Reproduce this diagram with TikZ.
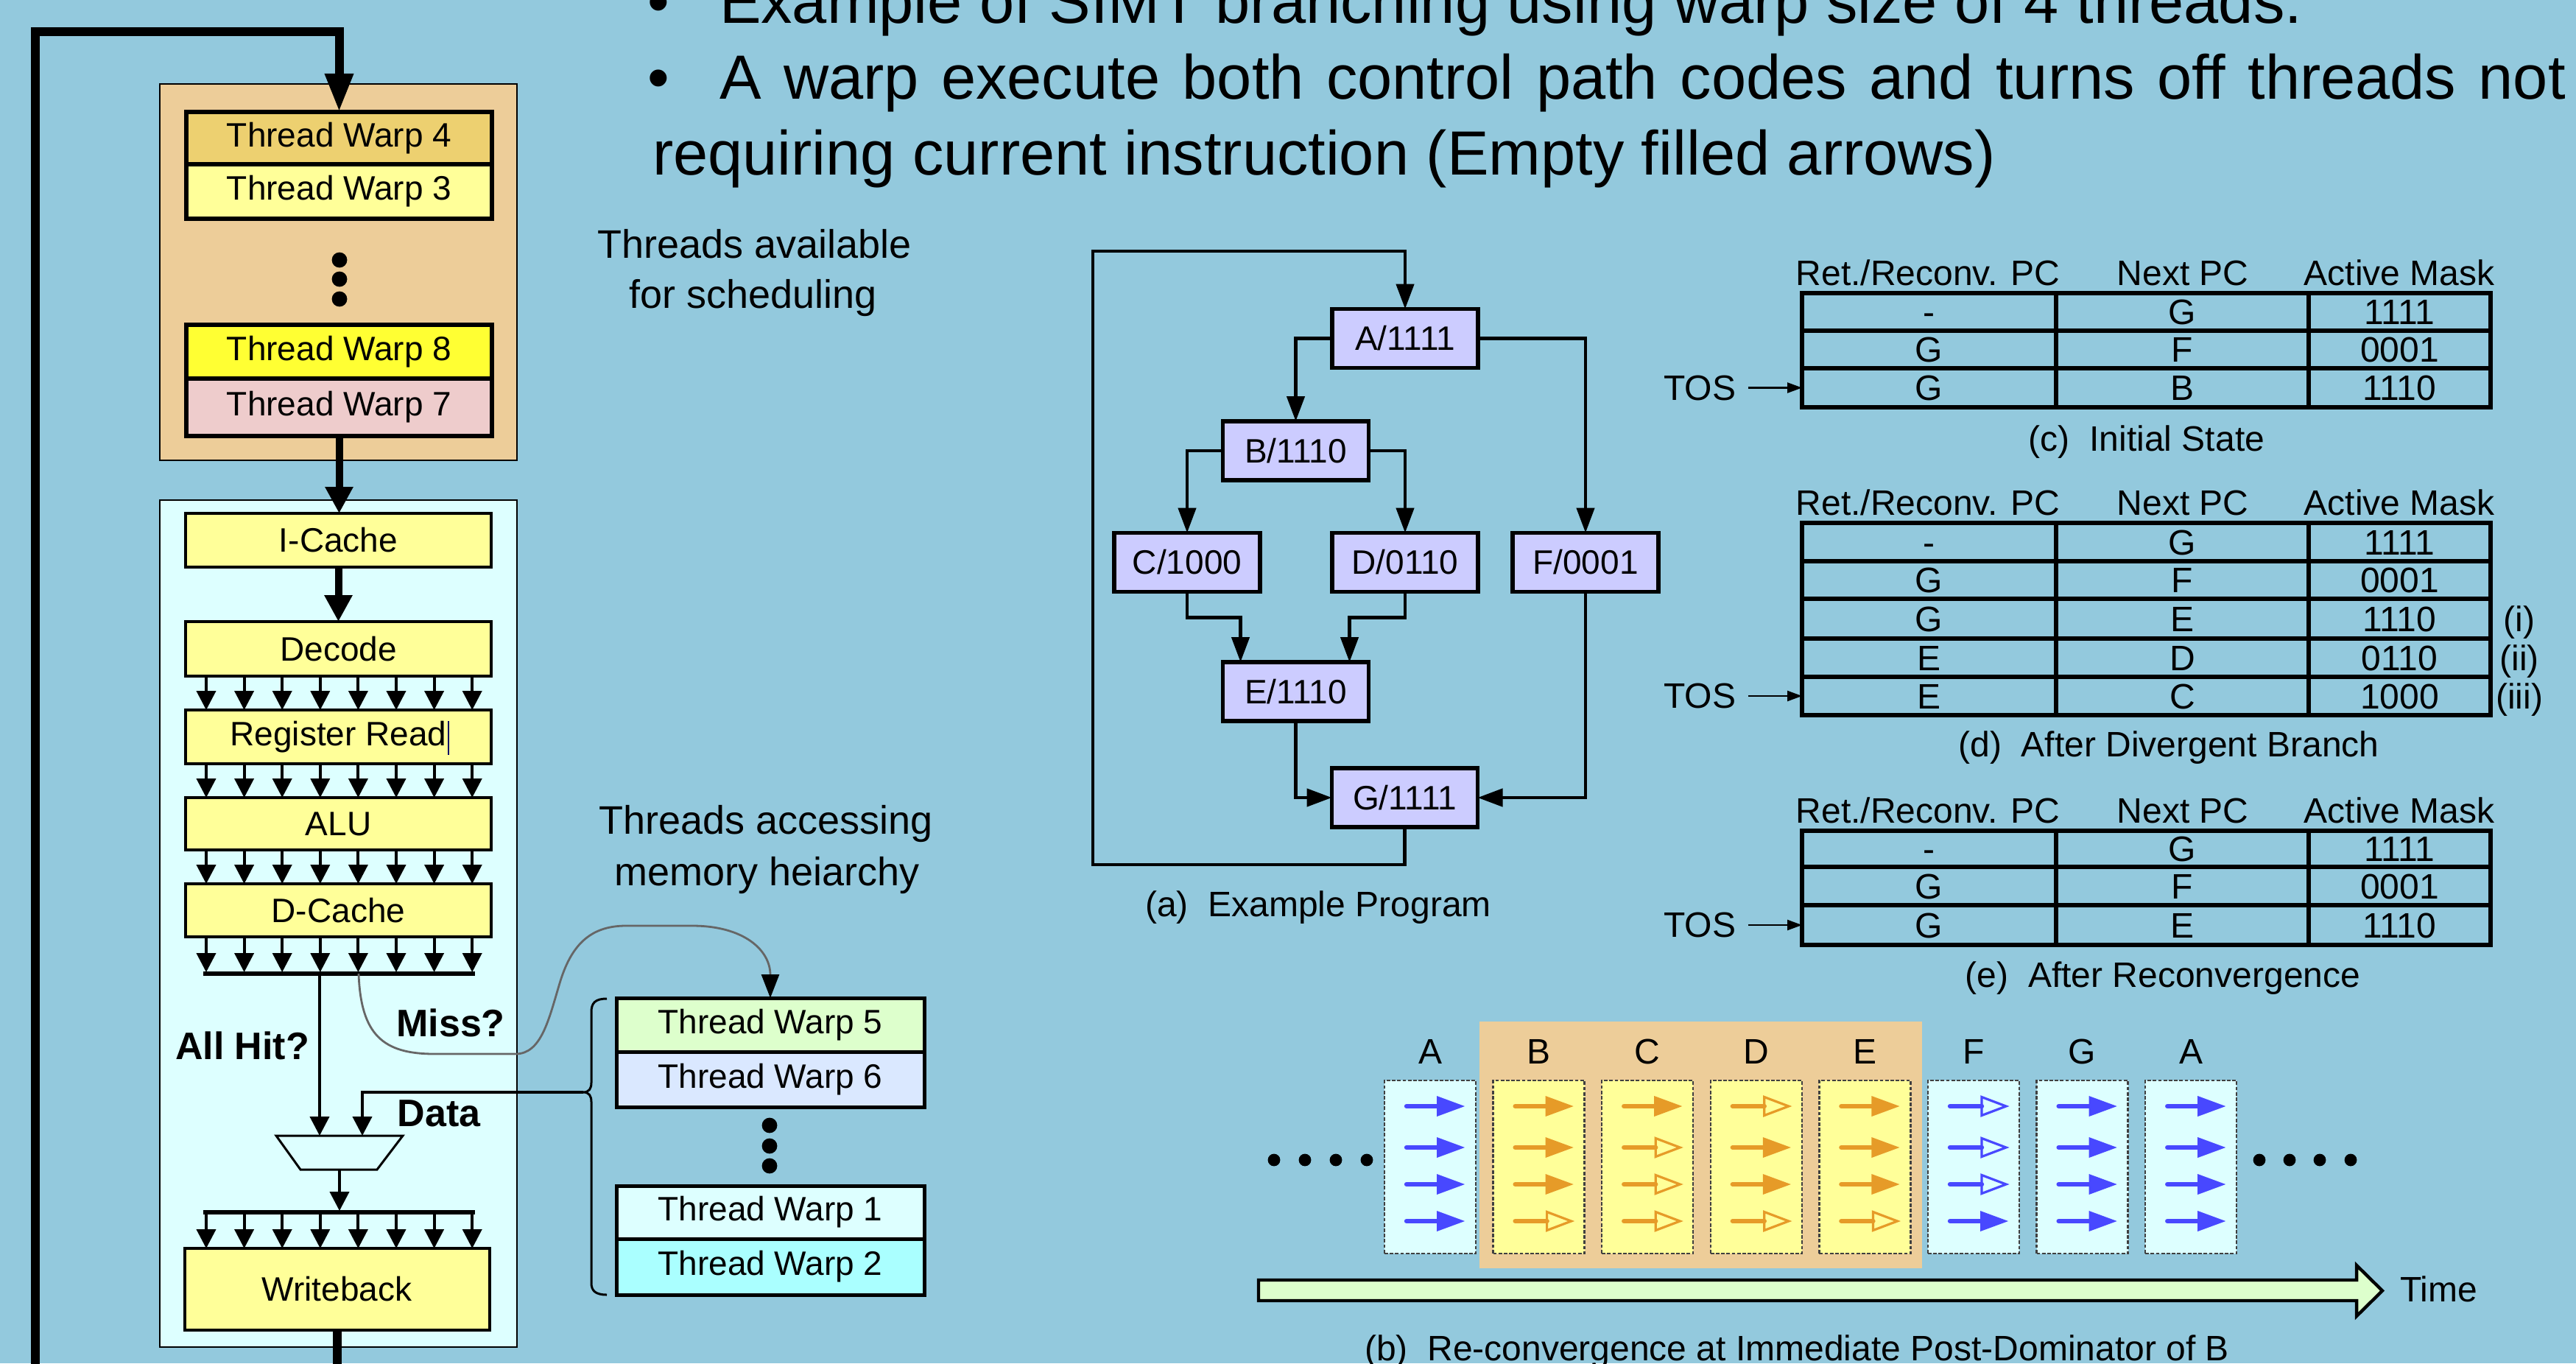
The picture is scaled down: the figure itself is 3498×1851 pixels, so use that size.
\documentclass[tikz,border=0pt]{standalone}
\usepackage{fontspec}
\setmainfont{Liberation Sans}
\usetikzlibrary{arrows.meta,calc}
\definecolor{bg}{RGB}{147,201,221}
\definecolor{tanc}{RGB}{237,205,153}
\definecolor{goldc}{RGB}{237,208,112}
\definecolor{lyel}{RGB}{255,255,153}
\definecolor{byel}{RGB}{255,255,51}
\definecolor{pinkc}{RGB}{238,204,204}
\definecolor{lcyan}{RGB}{221,255,255}
\definecolor{lgreen}{RGB}{221,255,204}
\definecolor{lblue}{RGB}{218,232,255}
\definecolor{cyantwo}{RGB}{170,255,255}
\definecolor{lav}{RGB}{204,204,255}
\definecolor{blu}{RGB}{72,72,255}
\definecolor{org}{RGB}{230,155,40}
\newcommand\fsz[1]{\fontsize{#1}{#1}\selectfont}
\newcommand\tarrf[3]{%
  \draw[#3, line width=1.6pt, line cap=round] (#1+30,#2) -- (#1+74,#2);
  \fill[#3] (#1+71,#2-14) -- (#1+109,#2) -- (#1+71,#2+14) -- cycle;}
\newcommand\tarrh[3]{%
  \draw[#3, line width=1.6pt, line cap=round] (#1+30,#2) -- (#1+73,#2);
  \draw[#3, line width=0.8pt, line join=miter] (#1+73,#2-12.5) -- (#1+106,#2) -- (#1+73,#2+12.5) -- cycle;}
\newcommand\tarr[4]{\csname tarr#1\endcsname{#2}{#3}{#4}}
\begin{document}
\begin{tikzpicture}[x=0.25pt,y=-0.25pt,
  wh/.style 2 args={minimum width=#1*0.25pt, minimum height=#2*0.25pt},
  every node/.style={inner sep=0pt, outer sep=0pt},
  lwarp/.style={draw, line width=1.5pt, font=\fsz{11.5}},
  rwarp/.style={draw, line width=1.25pt, font=\fsz{11.5}},
  stage/.style={draw, fill=lyel, line width=1pt, font=\fsz{11.5}},
  sarr/.style={line width=1pt, -{Triangle[length=6.5pt,width=6.5pt]}},
  tarrw/.style={line width=2.5pt, -{Triangle[length=9pt,width=9pt]}},
  tbl/.style={line width=1.3pt},
  tosarr/.style={line width=0.6pt, -{Triangle[length=5pt,width=3.5pt]}},
  cfg/.style={draw, fill=lav, line width=1.4pt, wh={198}{80}, font=\fsz{11.5}},
  carr/.style={line width=1.15pt, -{Triangle[length=8.5pt,width=6pt]}}]
\useasboundingbox (0,0) rectangle (3498,1851);
\clip (0,0) rectangle (3498,1851);
\fill[bg] (0,0) rectangle (3498,1851);

% ---------- top text ----------
\begin{scope}[font=\fsz{21.2}]
\node[anchor=base] (bul1) at (894,32) {\textbullet};
\node[anchor=base west] (line1) at (977,32) {Example of SIMT branching using warp size of 4 threads.};
\node[anchor=base] (bul2) at (894,135) {\textbullet};
\node[anchor=base west] (line2) at (977,135) {\makebox[626.75pt][s]{A warp execute both control path codes and turns off threads not}};
\node[anchor=base west] (line3) at (886,238) {requiring current instruction (Empty filled arrows)};
\end{scope}

% ---------- scheduling pool ----------
\node[draw, fill=tanc, line width=0.6pt, wh={485}{511}] (sched) at (459.5,369.5) {};
\node[lwarp, fill=goldc, wh={415}{71}] (tw4) at (460.5,187.5) {Thread Warp 4};
\node[lwarp, fill=lyel, wh={415}{74}] (tw3) at (460.5,260) {Thread Warp 3};
\node[lwarp, fill=byel, wh={415}{73}] (tw8) at (460.5,477.5) {Thread Warp 8};
\node[lwarp, fill=pinkc, wh={415}{78}] (tw7) at (460.5,553) {Thread Warp 7};
\foreach \y in {353,379,406} \fill (461,\y) circle[radius=2.6pt];

% ---------- pipeline ----------
\node[draw, fill=lcyan, line width=0.6pt, wh={485}{1150}] (pipe) at (459.5,1254) {};
\node[stage, wh={415}{73}] (icache) at (459.5,733.5) {I-Cache};
\node[stage, wh={415}{74}] (decode) at (459.5,881) {Decode};
\node[stage, wh={415}{73}] (regread) at (459.5,1000.5) {Register Read};
\draw[line width=0.5pt, blue!40!black] (609,979) -- (609,1025);
\node[stage, wh={415}{71}] (alu) at (459.5,1118.5) {ALU};
\node[stage, wh={415}{72}] (dcache) at (459.5,1236) {D-Cache};
\node[stage, wh={414}{111}] (wb) at (457.5,1750.5) {Writeback};

\draw[tarrw] (tw7.south) -- (tw7.south |- icache.north);
\draw[tarrw] (icache.south) -- (decode.north);
\foreach \i in {0,...,7}{
  \draw[sarr] ($(decode.south west)+(28+51.6*\i,0)$) -- ($(regread.north west)+(28+51.6*\i,0)$);
  \draw[sarr] ($(regread.south west)+(28+51.6*\i,0)$) -- ($(alu.north west)+(28+51.6*\i,0)$);
  \draw[sarr] ($(alu.south west)+(28+51.6*\i,0)$) -- ($(dcache.north west)+(28+51.6*\i,0)$);
}
\coordinate (bar1l) at (276,1322);
\coordinate (bar1r) at (645,1322);
\coordinate (bar2l) at (276,1646);
\coordinate (bar2r) at (645,1646);
\foreach \i in {0,...,7}{
  \draw[sarr] ($(dcache.south west)+(28+51.6*\i,0)$) -- ($(bar1l)+(4+51.6*\i,-2)$);
  \draw[sarr] ($(bar2l)+(4+51.6*\i,0)$) -- ($(wb.north west)+(29.5+51.6*\i,0)$);
}
\draw[line width=1.5pt] (bar1l) -- (bar1r);
\draw[line width=1.5pt] (bar2l) -- (bar2r);
% mux
\coordinate (muxa) at (434,1542);
\coordinate (muxb) at (492,1542);
\coordinate (muxo) at (461,1588);
\draw[line width=0.75pt, line join=miter] (375,1542) -- (547,1542) -- (512,1588) -- (408,1588) -- cycle;
\draw[sarr] ($(bar1l)+(158,0)$) -- (muxa);
\draw[sarr] (muxo) -- ($(bar2l)+(185,-2)$);

% labels in pipeline
\node[font=\fsz{13}\bfseries] (allhit) at (329,1420) {All Hit?};
\node[font=\fsz{13}\bfseries] (miss) at (612,1389) {Miss?};
\node[font=\fsz{13}\bfseries] (data) at (596,1512) {Data};

% loop back
\draw[line width=3pt, -{Triangle[length=13pt,width=9pt]}] (wb.south) -- (457.5,1950) -| (48,43) -| (tw4.north);

% ---------- memory warps ----------
\node[rwarp, fill=lgreen, wh={418}{73}] (tw5) at (1046,1391.5) {Thread Warp 5};
\node[rwarp, fill=lblue, wh={418}{75}] (tw6) at (1046,1465.5) {Thread Warp 6};
\node[rwarp, fill=lcyan, wh={418}{72}] (tw1) at (1046,1646) {Thread Warp 1};
\node[rwarp, fill=cyantwo, wh={418}{76}] (tw2) at (1046,1720) {Thread Warp 2};
\foreach \y in {1528,1556,1583} \fill (1045,\y) circle[radius=2.6pt];
% brace
\coordinate (bracetip) at (792,1483);
\draw[line width=0.75pt] (824,1356) .. controls (808,1356) and (803,1362) .. (803,1374) -- (803,1470)
   .. controls (803,1478) and (800,1483) .. (bracetip)
   .. controls (800,1483) and (803,1488) .. (803,1496) -- (803,1742)
   .. controls (803,1752) and (808,1758) .. (824,1758);
\draw[sarr] (bracetip) -| (muxb);
% miss curve
\draw[draw=black!60, line width=0.7pt, -{Triangle[length=8pt,width=6pt,black]}]
  ($(bar1l)+(211,0)$) .. controls (490,1405) and (520,1431) .. (590,1431) -- (700,1431)
  .. controls (735,1431) and (745,1385) .. (760,1335)
  .. controls (775,1285) and (800,1257) .. (850,1257) -- (940,1257)
  .. controls (1010,1257) and (1046,1290) .. (tw5.north);

% side labels
\node[anchor=base, font=\fsz{13.5}] (lab1) at (1025,350) {Threads available};
\node[anchor=base, font=\fsz{13.5}] (lab2) at (1023,418) {for scheduling};
\node[anchor=base, font=\fsz{13.5}] (lab3) at (1040,1132) {Threads accessing};
\node[anchor=base, font=\fsz{13.5}] (lab4) at (1042,1202) {memory heiarchy};

% ---------- (a) example program ----------
\node[cfg] (A) at (1908,459.5) {A/1111};
\node[cfg] (B) at (1759.5,612) {B/1110};
\node[cfg] (C) at (1612,763.5) {C/1000};
\node[cfg] (D) at (1908,763.5) {D/0110};
\node[cfg] (F) at (2153,763.5) {F/0001};
\node[cfg] (E) at (1759.5,939) {E/1110};
\node[cfg] (G) at (1907.5,1083) {G/1111};
\draw[carr] (A.west) -| (B.north);
\draw[carr] (A.east) -| (F.north);
\draw[carr] (B.west) -| (C.north);
\draw[carr] (B.east) -| (D.north);
\draw[carr] (C.south) -- ++(0,35) -| ($(E.north)+(-75,0)$);
\draw[carr] (D.south) -- ++(0,35) -| ($(E.north)+(73,0)$);
\draw[carr] (E.south) |- (G.west);
\draw[carr] (F.south) |- (G.east);
\draw[carr] (G.south) -- ++(0,51) -| (1484,341) -| (A.north);
\node[anchor=base, font=\fsz{12}] (capa) at (1790,1244) {(a)~ Example Program};

% ---------- stack tables ----------
\begin{scope}[font=\fsz{12}]
% (c)
\node[anchor=base] (hc1) at (2618,387) {Ret./Reconv. PC};
\node[anchor=base] (hc2) at (2964,387) {Next PC};
\node[anchor=base] (hc3) at (3258,387) {Active Mask};
\draw[tbl] (2447,398) rectangle (3382,553);
\draw[tbl] (2447,449) -- (3382,449) (2447,500) -- (3382,500) (2792,398) -- (2792,553) (3135,398) -- (3135,553);
\foreach \y/\a/\b/\cc [count=\n] in {440.5/-/G/1111,491.5/G/F/0001,543.5/G/B/1110}{
  \node[anchor=base] (cc\n-1) at (2619.5,\y) {\a};
  \node[anchor=base] (cc\n-2) at (2963.5,\y) {\b};
  \node[anchor=base] (cc\n-3) at (3258.5,\y) {\cc};}
\node[anchor=east] (tosc) at (2357,526.5) {TOS};
\coordinate (tc) at (2447,526.5);
\draw[tosarr] ([xshift=4.2pt]tosc.east) -- (tc);
\node[anchor=base] (capc) at (2915,612) {(c)~ Initial State};
% (d)
\node[anchor=base] (hd1) at (2618,699) {Ret./Reconv. PC};
\node[anchor=base] (hd2) at (2964,699) {Next PC};
\node[anchor=base] (hd3) at (3258,699) {Active Mask};
\draw[tbl] (2447,710) rectangle (3382,971);
\draw[tbl] (2447,762) -- (3382,762) (2447,813) -- (3382,813) (2447,867) -- (3382,867) (2447,919) -- (3382,919)
  (2792,710) -- (2792,971) (3135,710) -- (3135,971);
\foreach \y/\a/\b/\cc [count=\n] in {753/-/G/1111,804.5/G/F/0001,857/G/E/1110,910/E/D/0110,962/E/C/1000}{
  \node[anchor=base] (cd\n-1) at (2619.5,\y) {\a};
  \node[anchor=base] (cd\n-2) at (2963.5,\y) {\b};
  \node[anchor=base] (cd\n-3) at (3258.5,\y) {\cc};}
\node[anchor=base] (ri) at (3421,857) {(i)};
\node[anchor=base] (rii) at (3421,910) {(ii)};
\node[anchor=base] (riii) at (3421,962) {(iii)};
\node[anchor=east] (tosd) at (2357,945) {TOS};
\coordinate (td) at (2447,945);
\draw[tosarr] ([xshift=4.2pt]tosd.east) -- (td);
\node[anchor=base] (capd) at (2945,1027) {(d)~ After Divergent Branch};
% (e)
\node[anchor=base] (he1) at (2618,1117) {Ret./Reconv. PC};
\node[anchor=base] (he2) at (2964,1117) {Next PC};
\node[anchor=base] (he3) at (3258,1117) {Active Mask};
\draw[tbl] (2447,1128) rectangle (3382,1283);
\draw[tbl] (2447,1177) -- (3382,1177) (2447,1229) -- (3382,1229) (2792,1128) -- (2792,1283) (3135,1128) -- (3135,1283);
\foreach \y/\a/\b/\cc [count=\n] in {1169.5/-/G/1111,1220/G/F/0001,1273/G/E/1110}{
  \node[anchor=base] (ce\n-1) at (2619.5,\y) {\a};
  \node[anchor=base] (ce\n-2) at (2963.5,\y) {\b};
  \node[anchor=base] (ce\n-3) at (3258.5,\y) {\cc};}
\node[anchor=east] (tose) at (2357,1256) {TOS};
\coordinate (te) at (2447,1256);
\draw[tosarr] ([xshift=4.2pt]tose.east) -- (te);
\node[anchor=base] (cape) at (2937,1340) {(e)~ After Reconvergence};
\end{scope}

% ---------- (b) timeline ----------
\fill[tanc] (2009,1387) rectangle (2610,1722);
\foreach \k/\lt/\fc/\clr/\qa/\qb/\qc/\qd in {0/A/lcyan/blu/f/f/f/f, 1/B/lyel/org/f/f/f/h, 2/C/lyel/org/f/h/h/h, 3/D/lyel/org/h/f/f/h, 4/E/lyel/org/f/f/f/h, 5/F/lcyan/blu/h/h/h/f, 6/G/lcyan/blu/f/f/f/f, 7/A/lcyan/blu/f/f/f/f}{
  \pgfmathsetmacro\xl{1880+147.6*\k}
  \node[draw=black!75, dash pattern=on 1.2pt off 0.6pt, line width=0.6pt, fill=\fc, wh={124}{235}, anchor=north west] (col\k) at (\xl,1467) {};
  \node[font=\fsz{12}] (lt\k) at (\xl+62,1428) {\lt};
  \tarr{\qa}{\xl}{1502}{\clr}
  \tarr{\qb}{\xl}{1558}{\clr}
  \tarr{\qc}{\xl}{1608}{\clr}
  \tarr{\qd}{\xl}{1658}{\clr}
}
\foreach \x in {1730,1772,1814,1856,3068,3109,3150,3192} \fill (\x,1575) circle[radius=2.1pt];
\draw[line width=1.1pt, fill=lgreen, line join=miter] (1709,1738) -- (3200,1738) -- (3200,1718) -- (3235,1752.5) -- (3200,1787) -- (3200,1766) -- (1709,1766) -- cycle;
\node[anchor=west, font=\fsz{12}] (timel) at (3259,1750) {Time};
\node[anchor=base, font=\fsz{12}] (capb) at (2440,1847) {(b)~ Re-convergence at Immediate Post-Dominator of B};
\end{tikzpicture}
\end{document}
